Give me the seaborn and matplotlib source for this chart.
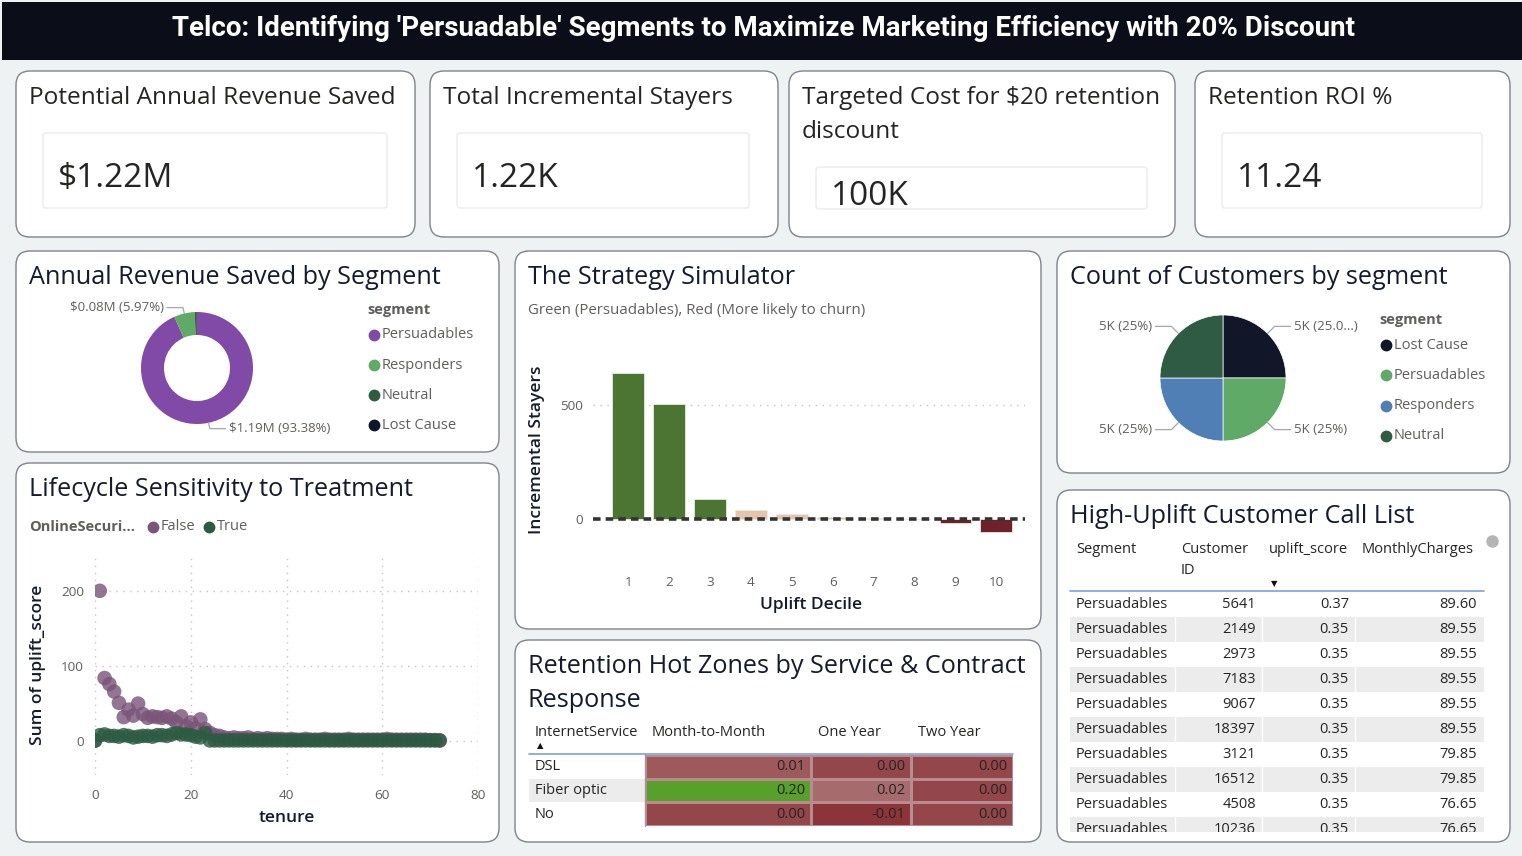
import numpy as np
import pandas as pd
import seaborn as sns
import matplotlib.pyplot as plt
import matplotlib.transforms as mtransforms
from matplotlib.patches import FancyBboxPatch, Rectangle
from matplotlib.colors import LinearSegmentedColormap

W, H = 1522, 856

# ---- data ----
main_title = "Telco: Identifying 'Persuadable' Segments to Maximize Marketing Efficiency with 20% Discount"

kpi_titles = ['Potential Annual Revenue Saved', 'Total Incremental Stayers',
              'Targeted Cost for $20 retention\ndiscount', 'Retention ROI %']
kpi_values = ['$1.22M', '1.22K', '100K', '11.24']

rev_segments = ['Persuadables', 'Responders', 'Neutral', 'Lost Cause']
rev_saved_m = [1.19, 0.0761, 0.0075, 0.0008]

deciles = [str(i) for i in range(1, 11)]
incr_stayers = [640, 504, 88, 40, 20, 8, 3, -2, -18, -57]

cust_segments = ['Lost Cause', 'Persuadables', 'Responders', 'Neutral']
cust_counts = [5000, 5000, 5000, 5000]
cust_labels = ['5K (25.0...)', '5K (25%)', '5K (25%)', '5K (25%)']

tenure = list(range(0, 73))
uplift_false = [0.5, 200, 84, 76, 66, 51, 32, 42, 34, 50, 36, 31, 33, 32, 31, 33, 30, 25, 33, 20,
                25, 17, 29, 16, 11, 8, 7, 5, 4, 5, 4, 4, 5, 3, 4, 3, 4, 3, 3, 3,
                2, 3, 2, 2, 3, 2, 2, 2, 3, 2, 2, 2, 2, 3, 2, 2, 2, 2, 2, 2,
                2, 3, 2, 2, 2, 2, 2, 2, 2, 2, 1.5, 1.5, 1]
uplift_true = [1, 8, 9, 7, 7, 6, 8, 7, 5, 6, 7, 7, 6, 8, 8, 7, 9, 11, 9, 9,
               8, 6, 5, 11, 1, 1, 1, 1, 1, 1, 1, 1, 1, 1, 1, 1, 1, 1, 1, 1,
               1, 1, 1, 1, 1, 1, 1, 1, 1, 1, 1, 1, 1, 1, 1, 1, 1, 1, 1, 1,
               1, 1, 1, 1, 1, 1, 1, 1, 1, 1, 1, 1, 1]

internet = ['DSL', 'Fiber optic', 'No']
contracts = ['Month-to-Month', 'One Year', 'Two Year']
hot_values = [[0.01, 0.00, 0.00],
              [0.20, 0.02, 0.00],
              [0.00, -0.01, 0.00]]

call_cols = ['Segment', 'Customer\nID', 'uplift_score', 'MonthlyCharges']
call_segment = ['Persuadables'] * 10
call_id = [5641, 2149, 2973, 7183, 9067, 18397, 3121, 16512, 4508, 10236]
call_score = [0.37, 0.35, 0.35, 0.35, 0.35, 0.35, 0.35, 0.35, 0.35, 0.35]
call_charges = [89.60, 89.55, 89.55, 89.55, 89.55, 89.55, 79.85, 79.85, 76.65, 76.65]

# ---- styling ----
sns.set_style('white')
plt.rcParams['font.family'] = ['Open Sans', 'DejaVu Sans']
NARROW = ['Liberation Sans Narrow', 'Roboto', 'DejaVu Sans']
TITLE_C = '#141b2d'
GRAY = '#605e5c'
TXT = '#252423'
BORDER = '#7f838c'

fig = plt.figure(figsize=(W / 100, H / 100), dpi=100)
fig.patch.set_facecolor('#eef2f2')

bg = fig.add_axes([0, 0, 1, 1])
bg.set_xlim(0, W)
bg.set_ylim(H, 0)
bg.axis('off')


def px_axes(x0, y0, x1, y1):
    ax = fig.add_axes([x0 / W, 1 - y1 / H, (x1 - x0) / W, (y1 - y0) / H])
    ax.patch.set_alpha(0)
    return ax


def title_lines(x, y, text, color, size=18.2):
    # one baseline per line, 34 px apart
    for k, line in enumerate(text.split('\n')):
        bg.text(x, y + 34 * k, line, fontsize=size, color=color, fontweight='medium',
                va='baseline', ha='left')


def panel(x0, y0, x1, y1, title=None, r=14):
    bg.add_patch(FancyBboxPatch((x0, y0), x1 - x0, y1 - y0,
                                boxstyle=f'round,pad=0,rounding_size={r}',
                                fc='white', ec=BORDER, lw=1.0))
    if title:
        title_lines(x0 + 13, y0 + 33, title, TITLE_C)


def legend(x, y, title, names, colors, dy):
    bg.text(x - 7, y, title, fontsize=10.5, fontweight='bold', color=GRAY, va='center')
    for i, (n, c) in enumerate(zip(names, colors)):
        yy = y + 25 + i * dy
        bg.plot([x], [yy], 'o', ms=7.5, color=c)
        bg.text(x + 8, yy, n, fontsize=10.5, color=GRAY, va='center')


# title bar
bg.add_patch(Rectangle((2, 2), W - 2, 58, fc='#0b0e19', ec='none'))
bg.text(763, 28, main_title, color='white', fontsize=20, fontweight='bold',
        family=NARROW, ha='center', va='center')

# ---- KPI cards ----
kpi_boxes = [(16, 415), (430, 778), (789, 1175), (1195, 1510)]
kpi_inner = [(43, 133, 387, 208), (457, 133, 749, 208), (816, 167, 1147, 209), (1222, 133, 1482, 208)]
for (x0, x1), (ix0, iy0, ix1, iy1), t, v in zip(kpi_boxes, kpi_inner, kpi_titles, kpi_values):
    panel(x0, 71, x1, 237)
    title_lines(x0 + 13, 104, t, TXT, size=17.6)
    bg.add_patch(FancyBboxPatch((ix0, iy0), ix1 - ix0, iy1 - iy0,
                                boxstyle='round,pad=0,rounding_size=3',
                                fc='white', ec='#ebebeb', lw=1))
    bg.text(ix0 + 15, (iy0 + iy1) / 2 + 16.5, v, fontsize=24, color=TXT,
            va='baseline', ha='left')

# ---- panels ----
panel(16, 251, 499, 452, 'Annual Revenue Saved by Segment')
panel(515, 251, 1041, 629, 'The Strategy Simulator')
panel(1057, 251, 1510, 473, 'Count of Customers by segment')
panel(16, 463, 499, 842, 'Lifecycle Sensitivity to Treatment')
panel(515, 640, 1041, 842, 'Retention Hot Zones by Service & Contract\nResponse')
panel(1057, 490, 1510, 842, 'High-Uplift Customer Call List')


def pie_labels(ax, wedges, r, texts, shares, ext=10, min_share=0.02):
    for w, s, share in zip(wedges, texts, shares):
        if share < min_share:
            continue
        th = np.deg2rad((w.theta1 + w.theta2) / 2)
        c, sn = np.cos(th), np.sin(th)
        p0 = (r * c, r * sn)
        p1 = ((r + ext) * c, (r + ext) * sn)
        side = 1 if c >= 0 else -1
        p2 = (p1[0] + 16 * side, p1[1])
        ax.plot([p0[0], p1[0], p2[0]], [p0[1], p1[1], p2[1]], color='#a8a8a8',
                lw=0.9, clip_on=False)
        ax.text(p2[0] + 3 * side, p2[1], s, fontsize=9.5, color=GRAY, va='center',
                ha='left' if side > 0 else 'right', clip_on=False)


# ---- donut ----
rev_colors = ['#804aa6', '#5faa67', '#2f5b45', '#121629']
ax = px_axes(117, 288, 277, 448)
total = sum(rev_saved_m)
wedges, _ = ax.pie(rev_saved_m, colors=rev_colors, radius=56, startangle=90,
                   counterclock=False, wedgeprops=dict(width=23, edgecolor='none'))
ax.set_xlim(-80, 80)
ax.set_ylim(-80, 80)
pie_labels(ax, wedges, 56,
           [f'${v:.2f}M ({v / total * 100:.2f}%)' for v in rev_saved_m],
           [v / total for v in rev_saved_m], ext=6)
legend(374, 310, 'segment', rev_segments, rev_colors, 30)

# ---- customers pie ----
cust_colors = ['#121629', '#5faa67', '#4f7fb5', '#2f5b45']
ax = px_axes(1133, 288, 1313, 468)
wedges, _ = ax.pie(cust_counts, colors=cust_colors, radius=63, startangle=90,
                   counterclock=False, wedgeprops=dict(edgecolor='white', linewidth=0.5))
ax.set_xlim(-90, 90)
ax.set_ylim(-90, 90)
pie_labels(ax, wedges, 63, cust_labels, [c / sum(cust_counts) for c in cust_counts])
legend(1386, 320, 'segment', cust_segments, cust_colors, 30.3)

# ---- strategy simulator ----
bg.text(528, 310, 'Green (Persuadables), Red (More likely to churn)', fontsize=10.8,
        color=GRAY, va='center')
ax = px_axes(593, 335, 1025, 565)
sim = pd.DataFrame({'decile': deciles, 'stayers': incr_stayers})
bar_colors = ['#4a7f28' if v >= 50 else '#7b1422' if v <= -10 else '#f0c0a6'
              for v in incr_stayers]
sns.barplot(data=sim, x='decile', y='stayers', hue='decile', palette=bar_colors,
            legend=False, width=0.78, errorbar=None, edgecolor='#e6ecdf',
            linewidth=0.6, ax=ax)
ax.set_xlim(-0.86, 9.7)
ax.set_ylim(-202, 807)
ax.set_yticks([0, 500])
ax.axhline(500, ls=(0, (1, 4)), color='#c4c4c4', lw=1, zorder=0)
ax.axhline(0, color='#333333', lw=2.6, dashes=(2.1, 1.4), zorder=5)
sns.despine(ax=ax, left=True, bottom=True)
ax.tick_params(length=0, labelsize=9.7, labelcolor=GRAY)
ax.tick_params(axis='x', pad=8)
ax.tick_params(axis='y', pad=7)
ax.set_xlabel('Uplift Decile', fontsize=12.5, fontweight='semibold', color=TITLE_C)
ax.set_ylabel('Incremental Stayers', fontsize=12.5, fontweight='semibold', color=TITLE_C)
ax.xaxis.set_label_coords(0.505, -0.174)
ax.xaxis.label.set_va('center')
ax.yaxis.set_label_coords(-0.13, 0.5)
ax.yaxis.label.set_va('center')

# ---- lifecycle scatter ----
bg.text(29, 527, 'OnlineSecuri...', fontsize=10.5, fontweight='bold', color=GRAY, va='center')
life_colors = {'False': '#7a5479', 'True': '#2d5a42'}
bg.plot([153], [527], 'o', ms=7.5, color=life_colors['False'])
bg.text(161, 527, 'False', fontsize=10.5, color=GRAY, va='center')
bg.plot([209], [527], 'o', ms=7.5, color=life_colors['True'])
bg.text(217, 527, 'True', fontsize=10.5, color=GRAY, va='center')

life = pd.DataFrame({'tenure': tenure + tenure,
                     'uplift': uplift_false + uplift_true,
                     'OnlineSecurity': ['False'] * len(tenure) + ['True'] * len(tenure)})
ax = px_axes(95, 557, 478, 775)
sns.scatterplot(data=life, x='tenure', y='uplift', hue='OnlineSecurity',
                palette=life_colors, s=110, alpha=0.8, edgecolor='none',
                legend=False, ax=ax)
ax.set_xlim(0, 80)
ax.set_ylim(-45, 245)
ax.set_xticks([0, 20, 40, 60, 80])
ax.set_yticks([0, 100, 200])
ax.grid(True, ls=(0, (1, 4)), color='#c4c4c4', lw=1)
ax.set_axisbelow(True)
sns.despine(ax=ax, left=True, bottom=True)
ax.tick_params(length=0, labelsize=9.7, labelcolor=GRAY)
ax.tick_params(axis='x', pad=10)
ax.tick_params(axis='y', pad=8)
ax.set_xlabel('tenure', fontsize=12.5, fontweight='semibold', color=TITLE_C)
ax.set_ylabel('Sum of uplift_score', fontsize=12.5, fontweight='semibold', color=TITLE_C)
ax.xaxis.set_label_coords(0.501, -0.197)
ax.xaxis.label.set_va('center')
ax.yaxis.set_label_coords(-0.149, 0.505)
ax.yaxis.label.set_va('center')

# ---- retention hot zones (heatmap, one column per contract) ----
hot = pd.DataFrame(hot_values, index=internet, columns=contracts)
hot_cmap = LinearSegmentedColormap.from_list(
    'hot', [(0.0, '#8b353b'), (0.524, '#effdf0'), (1.0, '#57a02c')])
col_edges = [645, 811, 911, 1013]
hm_axes = []
for j, col in enumerate(contracts):
    hx = px_axes(col_edges[j], 755, col_edges[j + 1], 826)
    sns.heatmap(hot[[col]], cmap=hot_cmap, vmin=-0.01, vmax=0.20, cbar=False,
                annot=True, fmt='.2f', annot_kws={'color': TXT, 'fontsize': 10.5},
                linewidths=0.8, linecolor='#b98a8e', xticklabels=False,
                yticklabels=False, ax=hx)
    for t in hx.texts:
        x, y = t.get_position()
        t.set_position((x + 0.5 - 6 / (col_edges[j + 1] - col_edges[j]), y))
        t.set_ha('right')
    hx.set_xlabel('')
    hx.set_ylabel('')
    bg.text(col_edges[j] + 7, 733, col, fontsize=10.5, color=TXT, va='center')
    hm_axes.append(hx)

blend = mtransforms.blended_transform_factory(bg.transData, hm_axes[0].transData)
bg.add_patch(Rectangle((529, internet.index('Fiber optic')), 116, 1, transform=blend,
                       fc='#ececec', ec='none'))
for i, name in enumerate(internet):
    bg.text(535, i + 0.5, name, transform=blend, fontsize=10.5, color=TXT, va='center')
bg.text(535, 733, 'InternetService', fontsize=10.5, color=TXT, va='center')
bg.text(540, 746, '▲', fontsize=6, color='#111111', family='DejaVu Sans', va='center', ha='center')
bg.plot([529, 1013], [754, 754], color='#7aa2e3', lw=1.2)
bg.plot([645, 645], [754, 826], color='#7aa2e3', lw=1.0)

# ---- call list table ----
head_x = [1076, 1181, 1269, 1362]
for x, c in zip(head_x, call_cols):
    bg.text(x, 542, c, fontsize=10.5, color=TXT, va='top', linespacing=1.55)
bg.text(1274, 584, '▼', fontsize=6, color='#111111', family='DejaVu Sans', va='center', ha='center')
bg.plot([1070, 1484], [591, 591], color='#7aa2e3', lw=1.2)
bg.plot([1492], [541], 'o', ms=8, color='#b5b5b5')

tab = px_axes(1057, 592, 1510, 832)
tab.set_xlim(1057, 1510)
tab.set_ylim(832, 592)
tab.axis('off')
row_h = 25
for i in range(len(call_id)):
    top = 592 + i * row_h
    yc = top + row_h / 2
    if i % 2 == 1:
        tab.add_patch(Rectangle((1070, top), 414, row_h, fc='#ececec', ec='none'))
        for xs in (1175, 1262, 1355):
            tab.plot([xs, xs], [top, top + row_h], color='white', lw=1)
    kw = dict(fontsize=10.5, color=TXT, va='center', clip_on=True)
    tab.text(1076, yc, call_segment[i], ha='left', **kw)
    tab.text(1256, yc, str(call_id[i]), ha='right', **kw)
    tab.text(1349, yc, f'{call_score[i]:.2f}', ha='right', **kw)
    tab.text(1477, yc, f'{call_charges[i]:.2f}', ha='right', **kw)

plt.savefig('out.png', dpi=100, facecolor=fig.get_facecolor())
